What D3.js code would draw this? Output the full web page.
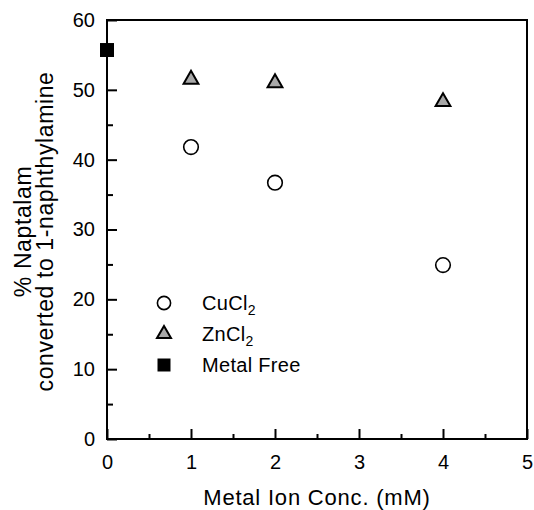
<!DOCTYPE html>
<html>
<head>
<meta charset="utf-8">
<script src="https://cdn.jsdelivr.net/npm/d3@7"></script>
<style>
  body { margin: 0; background: #fff; }
  text { font-family: "Liberation Sans", Arial, Helvetica, sans-serif; fill: #000; }
</style>
</head>
<body>
<svg id="chart"></svg>
<script>
const width = 534;
const height = 510;

// data
const concentrations = [1, 2, 4];
const cuValues = [41.8, 36.7, 24.9];
const znValues = [51.5, 51.0, 48.3];
const freeConc = [0];
const freeValues = [55.7];

const xTicks = [0, 1, 2, 3, 4, 5];
const xMinor = [0.5, 1.5, 2.5, 3.5, 4.5];
const yTicks = [0, 10, 20, 30, 40, 50, 60];
const yMinor = [5, 15, 25, 35, 45, 55];

const legendNames = ["CuCl", "ZnCl", "Metal Free"];
const legendSubs = ["2", "2", ""];

const margin = {top: 20, right: 7, bottom: 71, left: 107};

const svg = d3.select("#chart")
    .attr("width", width)
    .attr("height", height);

const x = d3.scaleLinear().domain([0, 5]).range([margin.left, width - margin.right]);
const y = d3.scaleLinear().domain([0, 60]).range([height - margin.bottom, margin.top]);

// frame
svg.append("rect")
    .attr("x", x(0)).attr("y", y(60))
    .attr("width", x(5) - x(0)).attr("height", y(0) - y(60))
    .attr("fill", "none").attr("stroke", "#000").attr("stroke-width", 2);

// axes, ticks point inward
svg.append("g")
    .attr("transform", `translate(0,${y(0)})`)
    .call(d3.axisBottom(x).tickValues(xTicks).tickSize(-10).tickPadding(16).tickFormat(d3.format("d")));
svg.append("g")
    .attr("transform", `translate(0,${y(0)})`)
    .call(d3.axisBottom(x).tickValues(xMinor).tickSize(-5).tickFormat(""));

svg.append("g")
    .attr("transform", `translate(${x(0)},0)`)
    .call(d3.axisLeft(y).tickValues(yTicks).tickSize(-10).tickPadding(12).tickFormat(d3.format("d")));
svg.append("g")
    .attr("transform", `translate(${x(0)},0)`)
    .call(d3.axisLeft(y).tickValues(yMinor).tickSize(-6).tickFormat(""));

svg.selectAll(".domain").remove();
svg.selectAll(".tick line").attr("stroke", "#000").attr("stroke-width", 2);
svg.selectAll(".tick text").attr("font-size", 20).attr("font-family", "Liberation Sans, Arial, sans-serif").attr("fill", "#000");

// axis titles
svg.append("text")
    .attr("x", (x(0) + x(5)) / 2)
    .attr("y", 505)
    .attr("text-anchor", "middle")
    .attr("font-size", 22)
    .attr("letter-spacing", 0.8)
    .text("Metal Ion Conc. (mM)");

const yTitle = svg.append("text")
    .attr("transform", `translate(31,${(y(0) + y(60)) / 2 + 2}) rotate(-90)`)
    .attr("text-anchor", "middle")
    .attr("font-size", 23)
    .attr("letter-spacing", 0.6);
yTitle.append("tspan").attr("x", 0).attr("dy", 0).text("% Naptalam");
yTitle.append("tspan").attr("x", 0).attr("dy", 22).text("converted to 1-naphthylamine");

// markers
const circle = d3.symbol().type(d3.symbolCircle).size(Math.PI * 7.3 * 7.3);
const triangle = d3.symbol().type(d3.symbolTriangle).size(95);
const square = d3.symbol().type(d3.symbolSquare).size(14 * 14);

svg.selectAll(".cu")
    .data(concentrations.map((c, i) => [c, cuValues[i]]))
    .enter().append("path")
    .attr("class", "cu")
    .attr("d", circle)
    .attr("transform", d => `translate(${x(d[0])},${y(d[1])})`)
    .attr("fill", "#fff").attr("stroke", "#000").attr("stroke-width", 1.6);

svg.selectAll(".zn")
    .data(concentrations.map((c, i) => [c, znValues[i]]))
    .enter().append("path")
    .attr("class", "zn")
    .attr("d", triangle)
    .attr("transform", d => `translate(${x(d[0])},${y(d[1])})`)
    .attr("fill", "#a8a8a8").attr("stroke", "#000").attr("stroke-width", 2);

svg.selectAll(".free")
    .data(freeConc.map((c, i) => [c, freeValues[i]]))
    .enter().append("path")
    .attr("class", "free")
    .attr("d", square)
    .attr("transform", d => `translate(${x(d[0])},${y(d[1])})`)
    .attr("fill", "#000");

// legend
const legendSymbols = [
    d3.symbol().type(d3.symbolCircle).size(Math.PI * 6.6 * 6.6),
    d3.symbol().type(d3.symbolTriangle).size(85),
    d3.symbol().type(d3.symbolSquare).size(13 * 13)
];
const fills = ["#fff", "#a8a8a8", "#000"];
const legend = svg.append("g").attr("transform", "translate(164,303)");
legendNames.forEach((name, i) => {
    const row = legend.append("g").attr("transform", `translate(0,${i * 31})`);
    row.append("path")
        .attr("d", legendSymbols[i])
        .attr("fill", fills[i])
        .attr("stroke", i < 2 ? "#000" : "none")
        .attr("stroke-width", i === 0 ? 1.6 : 2);
    const t = row.append("text")
        .attr("x", 38).attr("y", 6.5)
        .attr("font-size", 20)
        .attr("letter-spacing", 0.3);
    t.append("tspan").text(name);
    if (legendSubs[i]) {
        t.append("tspan").attr("dy", 5).attr("font-size", 14).text(legendSubs[i]);
    }
});
</script>
</body>
</html>
